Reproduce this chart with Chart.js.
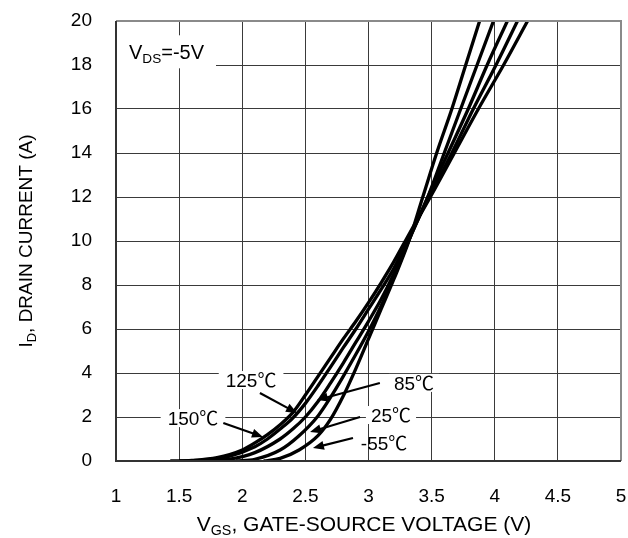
<!DOCTYPE html>
<html>
<head>
<meta charset="utf-8">
<script src="https://cdn.jsdelivr.net/npm/chart.js@4/dist/chart.umd.min.js"></script>
<style>
html,body{margin:0;padding:0;background:#fff;}
canvas{display:block;}
</style>
</head>
<body>
<canvas id="c" width="628" height="538"></canvas>
<script>
// ---- data ----
const seriesNames = ['150\u2103', '125\u2103', '85\u2103', '25\u2103', '-55\u2103'];

const vgs150 = [1.43,1.6,1.8,2.0,2.1,2.2,2.3,2.4,2.5,2.6,2.7,2.8,2.9,3.0,3.1,3.2,3.33,3.49,3.68,3.87,4.07,4.26];
const id150  = [0,0.03,0.15,0.5,0.82,1.2,1.65,2.2,3.0,3.85,4.7,5.55,6.35,7.2,8.1,9.05,10.4,12.0,14.0,16.0,18.0,20.0];

const vgs125 = [1.5,1.7,1.9,2.1,2.2,2.3,2.4,2.5,2.6,2.7,2.8,2.9,3.0,3.1,3.2,3.34,3.48,3.66,3.83,4.01,4.18];
const id125  = [0,0.04,0.22,0.65,1.0,1.45,1.95,2.62,3.42,4.28,5.15,6.0,6.9,7.8,8.75,10.4,12.0,14.0,16.0,18.0,20.0];

const vgs85 = [1.7,1.9,2.1,2.3,2.4,2.5,2.6,2.7,2.8,2.9,3.0,3.1,3.2,3.34,3.47,3.63,3.79,3.94,4.1];
const id85  = [0,0.08,0.38,1.0,1.45,2.0,2.7,3.55,4.45,5.4,6.35,7.35,8.5,10.3,12.0,14.0,16.0,18.0,20.0];

const vgs25 = [1.95,2.1,2.3,2.45,2.6,2.7,2.8,2.9,3.0,3.1,3.2,3.34,3.47,3.6,3.73,3.86,3.99];
const id25  = [0,0.08,0.5,1.15,2.05,2.9,3.85,4.85,5.9,7.05,8.35,10.3,12.0,14.0,16.0,18.0,20.0];

const vgsM55 = [2.17,2.3,2.45,2.6,2.7,2.8,2.9,3.0,3.1,3.2,3.32,3.43,3.54,3.66,3.77,3.88];
const idM55  = [0,0.12,0.5,1.15,1.9,2.95,4.2,5.55,6.9,8.25,10.0,12.0,14.0,16.0,18.0,20.0];

const xTicks = [1,1.5,2,2.5,3,3.5,4,4.5,5];
const yTicks = [0,2,4,6,8,10,12,14,16,18,20];
const xTickLabels = ['1','1.5','2','2.5','3','3.5','4','4.5','5'];
const yTickLabels = ['0','2','4','6','8','10','12','14','16','18','20'];

// ---- build ----
const seriesX = [vgs150, vgs125, vgs85, vgs25, vgsM55];
const seriesY = [id150, id125, id85, id25, idM55];

const FONT = "'Liberation Sans', Arial, 'Noto Sans CJK SC', sans-serif";
const FS = 19;

const datasets = seriesNames.map((n, i) => ({
  label: n,
  data: seriesX[i].map((x, j) => ({x: x, y: seriesY[i][j]})),
  showLine: true,
  borderColor: '#000',
  borderWidth: 3.3,
  pointRadius: 0,
  cubicInterpolationMode: 'monotone',
  fill: false
}));

function drawRich(ctx, parts, cx, cy, size) {
  const sub = size * 0.68;
  let total = 0;
  const widths = parts.map(p => {
    ctx.font = (p[1] ? sub : size) + 'px ' + FONT;
    const w = ctx.measureText(p[0]).width;
    total += w;
    return w;
  });
  let x = cx - total / 2;
  const base = cy + size * 0.36;
  ctx.textAlign = 'left';
  ctx.textBaseline = 'alphabetic';
  ctx.fillStyle = '#000';
  parts.forEach((p, i) => {
    ctx.font = (p[1] ? sub : size) + 'px ' + FONT;
    ctx.fillText(p[0], x, p[1] ? base + size * 0.22 : base);
    x += widths[i];
  });
  return total;
}

function arrow(ctx, x1, y1, x2, y2) {
  const ang = Math.atan2(y2 - y1, x2 - x1);
  const L = 11, W = 4.5;
  ctx.strokeStyle = '#000';
  ctx.lineWidth = 2.2;
  ctx.beginPath();
  ctx.moveTo(x1, y1);
  ctx.lineTo(x2 - Math.cos(ang) * L * 0.8, y2 - Math.sin(ang) * L * 0.8);
  ctx.stroke();
  ctx.fillStyle = '#000';
  ctx.beginPath();
  ctx.moveTo(x2, y2);
  ctx.lineTo(x2 - Math.cos(ang) * L - Math.sin(ang) * W, y2 - Math.sin(ang) * L + Math.cos(ang) * W);
  ctx.lineTo(x2 - Math.cos(ang) * L + Math.sin(ang) * W, y2 - Math.sin(ang) * L - Math.cos(ang) * W);
  ctx.closePath();
  ctx.fill();
}

// annotation placement in data units
const notes = [
  {parts: [['V'], ['DS', 1], ['=-5V']], x: 1.40, y: 18.6, bg: true, padX: 12, halfH: 16.5, size: 20},
  {parts: [[seriesNames[1]]], x: 2.07, y: 3.68, bg: true, padX: 7, halfH: 9, arrow: [2.14, 3.09, 2.434, 2.18]},
  {parts: [[seriesNames[0]]], x: 1.61, y: 1.95, bg: true, padX: 7, halfH: 9, arrow: [1.85, 1.73, 2.164, 1.09]},
  {parts: [[seriesNames[2]]], x: 3.36, y: 3.55, bg: true, padX: 5, halfH: 9, arrow: [3.09, 3.545, 2.592, 2.77]},
  {parts: [[seriesNames[3]]], x: 3.178, y: 2.09, bg: true, padX: 5, halfH: 9, arrow: [2.933, 2.0, 2.537, 1.318]},
  {parts: [[seriesNames[4]]], x: 3.123, y: 0.82, bg: false, padX: 0, halfH: 9, arrow: [2.877, 1.045, 2.56, 0.59]}
];

const annotPlugin = {
  id: 'annot',
  beforeDatasetsDraw(chart) {
    const ctx = chart.ctx, xs = chart.scales.x, ys = chart.scales.y;
    ctx.save();
    notes.forEach(n => {
      if (!n.bg) return;
      const sz = n.size || FS;
      const cx = xs.getPixelForValue(n.x), cy = ys.getPixelForValue(n.y);
      let w = 0;
      n.parts.forEach(p => {
        ctx.font = (p[1] ? sz * 0.68 : sz) + 'px ' + FONT;
        w += ctx.measureText(p[0]).width;
      });
      ctx.fillStyle = '#fff';
      ctx.fillRect(cx - w / 2 - n.padX, cy - n.halfH, w + 2 * n.padX, 2 * n.halfH);
    });
    ctx.restore();
  },
  afterDatasetsDraw(chart) {
    const ctx = chart.ctx, xs = chart.scales.x, ys = chart.scales.y, a = chart.chartArea;
    ctx.save();
    // frame
    ctx.strokeStyle = '#8a8a8a';
    ctx.lineWidth = 2;
    ctx.beginPath();
    ctx.moveTo(a.left, a.top); ctx.lineTo(a.right, a.top); ctx.lineTo(a.right, a.bottom);
    ctx.stroke();
    ctx.strokeStyle = '#333';
    ctx.beginPath();
    ctx.moveTo(a.left, a.top); ctx.lineTo(a.left, a.bottom); ctx.lineTo(a.right, a.bottom);
    ctx.stroke();
    notes.forEach(n => {
      drawRich(ctx, n.parts, xs.getPixelForValue(n.x), ys.getPixelForValue(n.y), n.size || FS);
      if (n.arrow) {
        arrow(ctx, xs.getPixelForValue(n.arrow[0]), ys.getPixelForValue(n.arrow[1]),
                   xs.getPixelForValue(n.arrow[2]), ys.getPixelForValue(n.arrow[3]));
      }
    });
    // axis titles
    drawRich(ctx, [['V'], ['GS', 1], [', GATE-SOURCE VOLTAGE (V)']], 364, 523, 21);
    ctx.translate(25, (a.top + a.bottom) / 2);
    ctx.rotate(-Math.PI / 2);
    drawRich(ctx, [['I'], ['D', 1], [', DRAIN CURRENT (A)']], 0, 0, FS);
    ctx.restore();
  }
};

new Chart(document.getElementById('c'), {
  type: 'scatter',
  data: {datasets: datasets},
  options: {
    responsive: false,
    animation: false,
    devicePixelRatio: 1,
    layout: {padding: {left: 0, top: 21, right: 7, bottom: 0}},
    plugins: {legend: {display: false}, tooltip: {enabled: false}},
    scales: {
      x: {
        type: 'linear', min: 1, max: 5,
        afterBuildTicks: s => { s.ticks = xTicks.map(v => ({value: v})); },
        afterFit: s => { s.height = 77; s.paddingLeft = 0; s.paddingRight = 0; },
        ticks: {
          color: '#000', font: {family: FONT, size: FS}, padding: 24,
          maxRotation: 0, autoSkip: false,
          callback: (v) => { const i = xTicks.indexOf(v); return i >= 0 ? xTickLabels[i] : ''; }
        },
        grid: {color: '#3a3a3a', lineWidth: 1, drawTicks: false},
        border: {display: false}
      },
      y: {
        type: 'linear', min: 0, max: 20,
        afterBuildTicks: s => { s.ticks = yTicks.map(v => ({value: v})); },
        afterFit: s => { s.width = 116; s.paddingTop = 0; s.paddingBottom = 0; },
        ticks: {
          color: '#000', font: {family: FONT, size: FS}, padding: 24,
          autoSkip: false,
          callback: (v) => { const i = yTicks.indexOf(v); return i >= 0 ? yTickLabels[i] : ''; }
        },
        grid: {color: '#3a3a3a', lineWidth: 1, drawTicks: false},
        border: {display: false}
      }
    }
  },
  plugins: [annotPlugin]
});
</script>
</body>
</html>
